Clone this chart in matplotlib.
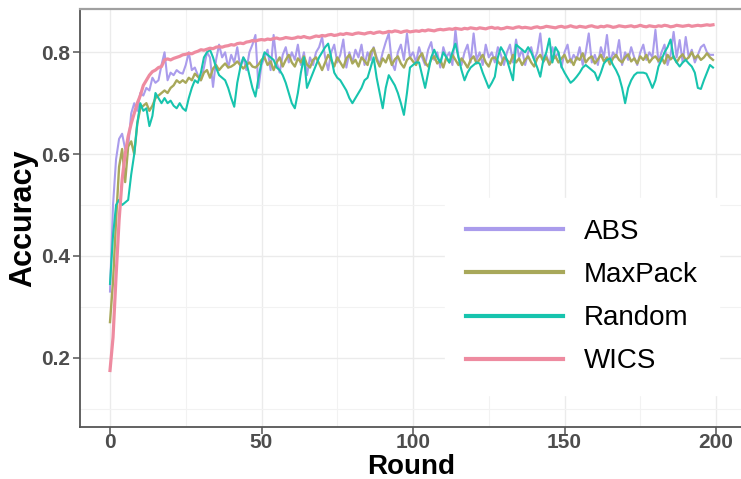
import numpy as np
import matplotlib
matplotlib.use("Agg")
import matplotlib.pyplot as plt

plt.rcParams['font.family'] = ['Liberation Sans', 'DejaVu Sans']

series_names = ["ABS", "MaxPack", "Random", "WICS"]
series_colors = ["#aa9cec", "#a8a85a", "#17c4ae", "#ee8ba0"]

abs_acc = [
    0.33, 0.50, 0.59, 0.63, 0.64, 0.61, 0.615, 0.68, 0.70, 0.685,
    0.72, 0.715, 0.73, 0.725, 0.75, 0.74, 0.745, 0.775, 0.80, 0.745,
    0.76, 0.755, 0.765, 0.76, 0.758, 0.775, 0.80, 0.765, 0.77, 0.755,
    0.745, 0.77, 0.80, 0.79, 0.732, 0.785, 0.815, 0.79, 0.80, 0.77,
    0.795, 0.78, 0.81, 0.77, 0.79, 0.765, 0.80, 0.815, 0.834, 0.73,
    0.775, 0.79, 0.805, 0.765, 0.834, 0.78, 0.76, 0.795, 0.81, 0.78,
    0.80, 0.785, 0.815, 0.775, 0.80, 0.755, 0.79, 0.775, 0.80, 0.81,
    0.83, 0.79, 0.765, 0.80, 0.815, 0.78, 0.795, 0.825, 0.77, 0.80,
    0.78, 0.805, 0.79, 0.815, 0.775, 0.80, 0.785, 0.81, 0.79, 0.775,
    0.80, 0.82, 0.837, 0.78, 0.765, 0.80, 0.815, 0.785, 0.837, 0.79,
    0.80, 0.78, 0.81, 0.79, 0.775, 0.805, 0.82, 0.785, 0.80, 0.77,
    0.81, 0.79, 0.80, 0.775, 0.844, 0.79, 0.775, 0.80, 0.815, 0.78,
    0.837, 0.785, 0.80, 0.775, 0.815, 0.79, 0.80, 0.78, 0.81, 0.795,
    0.775, 0.80, 0.815, 0.78, 0.825, 0.79, 0.805, 0.775, 0.80, 0.81,
    0.785, 0.80, 0.837, 0.78, 0.795, 0.775, 0.81, 0.79, 0.80, 0.77,
    0.80, 0.815, 0.78, 0.795, 0.785, 0.81, 0.775, 0.80, 0.837, 0.78,
    0.795, 0.775, 0.81, 0.79, 0.834, 0.78, 0.80, 0.79, 0.824, 0.775,
    0.80, 0.785, 0.81, 0.79, 0.775, 0.80, 0.815, 0.785, 0.80, 0.79,
    0.844, 0.78, 0.80, 0.815, 0.775, 0.795, 0.84, 0.79, 0.824, 0.78,
    0.83, 0.79, 0.805, 0.78, 0.795, 0.81, 0.815, 0.80, 0.795, 0.795,
]

maxpack_acc = [
    0.27, 0.35, 0.47, 0.575, 0.61, 0.545, 0.615, 0.625, 0.60, 0.66,
    0.69, 0.695, 0.70, 0.685, 0.695, 0.71, 0.715, 0.72, 0.725, 0.72,
    0.73, 0.735, 0.745, 0.74, 0.745, 0.74, 0.75, 0.745, 0.758, 0.752,
    0.745, 0.76, 0.765, 0.75, 0.768, 0.775, 0.765, 0.772, 0.778, 0.77,
    0.772, 0.776, 0.782, 0.775, 0.768, 0.775, 0.78, 0.772, 0.77, 0.776,
    0.785, 0.79, 0.775, 0.782, 0.765, 0.78, 0.79, 0.772, 0.785, 0.795,
    0.78, 0.772, 0.788, 0.78, 0.792, 0.776, 0.77, 0.785, 0.79, 0.778,
    0.765, 0.78, 0.795, 0.785, 0.772, 0.79, 0.78, 0.77, 0.788, 0.795,
    0.778, 0.785, 0.772, 0.79, 0.783, 0.775, 0.80, 0.808, 0.785, 0.772,
    0.788, 0.78, 0.795, 0.775, 0.786, 0.792, 0.778, 0.77, 0.785, 0.79,
    0.782, 0.775, 0.79, 0.798, 0.78, 0.772, 0.786, 0.792, 0.778, 0.785,
    0.77, 0.79, 0.78, 0.795, 0.785, 0.775, 0.788, 0.78, 0.77, 0.785,
    0.792, 0.778, 0.786, 0.795, 0.78, 0.772, 0.788, 0.79, 0.782, 0.775,
    0.79, 0.785, 0.778, 0.795, 0.78, 0.788, 0.775, 0.785, 0.792, 0.78,
    0.772, 0.788, 0.795, 0.782, 0.79, 0.776, 0.785, 0.792, 0.78, 0.788,
    0.795, 0.78, 0.786, 0.775, 0.79, 0.785, 0.798, 0.78, 0.788, 0.792,
    0.778, 0.786, 0.795, 0.782, 0.79, 0.776, 0.788, 0.795, 0.785, 0.78,
    0.79, 0.796, 0.782, 0.788, 0.778, 0.792, 0.785, 0.795, 0.78, 0.788,
    0.792, 0.783, 0.79, 0.778, 0.795, 0.786, 0.792, 0.78, 0.79, 0.796,
    0.785, 0.79, 0.80, 0.788, 0.794, 0.785, 0.79, 0.798, 0.79, 0.785,
]

random_acc = [
    0.345, 0.44, 0.50, 0.51, 0.50, 0.505, 0.51, 0.56, 0.60, 0.66,
    0.70, 0.685, 0.69, 0.655, 0.675, 0.72, 0.71, 0.70, 0.71, 0.70,
    0.705, 0.695, 0.69, 0.70, 0.69, 0.685, 0.71, 0.73, 0.745, 0.74,
    0.76, 0.79, 0.80, 0.805, 0.79, 0.77, 0.755, 0.75, 0.745, 0.73,
    0.71, 0.693, 0.74, 0.77, 0.79, 0.78, 0.755, 0.73, 0.713, 0.75,
    0.78, 0.80, 0.795, 0.79, 0.785, 0.77, 0.765, 0.755, 0.74, 0.72,
    0.70, 0.69, 0.72, 0.76, 0.79, 0.73, 0.745, 0.76, 0.775, 0.79,
    0.80, 0.81, 0.817, 0.79, 0.76, 0.75, 0.745, 0.735, 0.725, 0.71,
    0.70, 0.71, 0.72, 0.73, 0.745, 0.75, 0.77, 0.79, 0.75, 0.72,
    0.69, 0.73, 0.755, 0.745, 0.735, 0.72, 0.70, 0.677, 0.72, 0.77,
    0.775, 0.78, 0.78, 0.755, 0.73, 0.76, 0.79, 0.805, 0.79, 0.78,
    0.80, 0.79, 0.78, 0.80, 0.817, 0.79, 0.765, 0.745, 0.76, 0.77,
    0.775, 0.78, 0.778, 0.76, 0.745, 0.73, 0.74, 0.752, 0.79, 0.81,
    0.80, 0.785, 0.765, 0.745, 0.815, 0.81, 0.805, 0.80, 0.81, 0.80,
    0.785, 0.77, 0.752, 0.785, 0.80, 0.827, 0.78, 0.81, 0.80, 0.772,
    0.76, 0.75, 0.74, 0.745, 0.752, 0.76, 0.77, 0.775, 0.77, 0.765,
    0.76, 0.745, 0.76, 0.778, 0.785, 0.788, 0.775, 0.765, 0.752, 0.73,
    0.70, 0.73, 0.745, 0.755, 0.76, 0.76, 0.76, 0.758, 0.745, 0.73,
    0.745, 0.772, 0.785, 0.80, 0.81, 0.825, 0.79, 0.78, 0.772, 0.78,
    0.785, 0.778, 0.772, 0.76, 0.73, 0.728, 0.745, 0.76, 0.775, 0.77,
]

wics_acc = [
    0.175, 0.24, 0.36, 0.47, 0.55, 0.60, 0.635, 0.66, 0.68, 0.70,
    0.715, 0.735, 0.745, 0.755, 0.762, 0.765, 0.77, 0.772, 0.785, 0.787,
    0.785, 0.788, 0.79, 0.792, 0.795, 0.796, 0.798, 0.797, 0.80, 0.802,
    0.805, 0.804, 0.806, 0.808, 0.807, 0.81, 0.811, 0.81, 0.812, 0.813,
    0.815, 0.814, 0.817, 0.818, 0.817, 0.82, 0.821, 0.823, 0.822, 0.824,
    0.825, 0.824, 0.826, 0.825, 0.827, 0.828, 0.826, 0.827, 0.829, 0.828,
    0.827, 0.828, 0.830, 0.829, 0.831, 0.829, 0.828, 0.830, 0.832, 0.831,
    0.833, 0.832, 0.834, 0.835, 0.833, 0.834, 0.836, 0.835, 0.837, 0.836,
    0.835, 0.837, 0.838, 0.837, 0.836, 0.838, 0.839, 0.837, 0.839, 0.84,
    0.838, 0.839, 0.841, 0.84, 0.842, 0.841, 0.839, 0.841, 0.842, 0.84,
    0.841, 0.842, 0.841, 0.843, 0.842, 0.844, 0.843, 0.842, 0.844, 0.845,
    0.844, 0.845, 0.846, 0.845, 0.847, 0.846, 0.845, 0.847, 0.846, 0.848,
    0.847, 0.846, 0.848, 0.847, 0.846, 0.848, 0.849, 0.847, 0.848, 0.846,
    0.847, 0.849, 0.848, 0.847, 0.849, 0.85, 0.848, 0.849, 0.848, 0.847,
    0.849, 0.85, 0.848, 0.849, 0.851, 0.85, 0.849, 0.848, 0.85, 0.851,
    0.849, 0.85, 0.852, 0.85, 0.849, 0.851, 0.85, 0.849, 0.851, 0.852,
    0.85, 0.849, 0.851, 0.85, 0.852, 0.851, 0.849, 0.85, 0.852, 0.851,
    0.85, 0.851, 0.852, 0.85, 0.851, 0.853, 0.851, 0.85, 0.852, 0.851,
    0.85, 0.852, 0.851, 0.853, 0.852, 0.85, 0.851, 0.853, 0.852, 0.851,
    0.852, 0.853, 0.851, 0.852, 0.853, 0.852, 0.853, 0.854, 0.853, 0.854,
]

rounds = np.arange(len(wics_acc))
x_ticks = [0, 50, 100, 150, 200]
y_ticks = [0.2, 0.4, 0.6, 0.8]

fig = plt.figure(figsize=(7.41, 4.79), dpi=100)
ax = fig.add_axes([80 / 741, 1 - 427 / 479, 663 / 741, 418 / 479])

all_series = [abs_acc, maxpack_acc, random_acc, wics_acc]
widths = [1.5, 1.7, 1.5, 2.3]
for name, vals, col, lw in zip(series_names, all_series, series_colors, widths):
    ax.plot(rounds, vals, color=col, lw=lw, label=name, zorder=3)

ax.set_xlim(-9.9, 208.9)
ax.set_ylim(0.064, 0.885)
ax.set_xticks(x_ticks)
ax.set_yticks(y_ticks)
ax.set_xticks([25, 75, 125, 175], minor=True)
ax.set_yticks([0.1, 0.3, 0.5, 0.7], minor=True)
ax.set_yticklabels([f"{t:.1f}" for t in y_ticks])
ax.grid(which='major', color='#ebebeb', lw=1.0)
ax.grid(which='minor', color='#f2f2f2', lw=0.8)
ax.set_axisbelow(True)

for s in ['left', 'bottom']:
    ax.spines[s].set_color('#555555')
    ax.spines[s].set_linewidth(1.3)
ax.spines['top'].set_color('#a0a0a0')
ax.spines['top'].set_linewidth(1.6)
ax.spines['right'].set_visible(False)

ax.tick_params(which='major', direction='out', length=5, width=1.1, color='#555555',
               labelsize=15, labelcolor='#4d4d4d')
ax.tick_params(axis='x', which='major', pad=-1)
ax.tick_params(axis='y', which='major', pad=2)
ax.tick_params(which='minor', length=0)
for lab in ax.get_xticklabels() + ax.get_yticklabels():
    lab.set_fontweight('bold')

# x label placed by its baseline so it clears the tick labels
ax.set_xlabel("Round", fontsize=20, fontweight='bold', va='baseline')
ax.xaxis.set_label_coords(0.5, (427 - 474) / 418)
ax.set_ylabel("Accuracy", fontsize=22, fontweight='bold', labelpad=2)

leg = ax.legend(loc='upper left', bbox_to_anchor=(445 / 741, 1 - 198 / 479),
                bbox_transform=fig.transFigure, fontsize=20, frameon=True,
                handlelength=3.5, handletextpad=0.75, labelspacing=0.62,
                borderpad=0.75, borderaxespad=0)
leg.get_frame().set_facecolor('white')
leg.get_frame().set_edgecolor('white')
leg.get_frame().set_alpha(1)
leg.get_frame().set_boxstyle('square', pad=0)
for h in leg.get_lines():
    h.set_linewidth(3)

fig.savefig("out.png", dpi=100)
